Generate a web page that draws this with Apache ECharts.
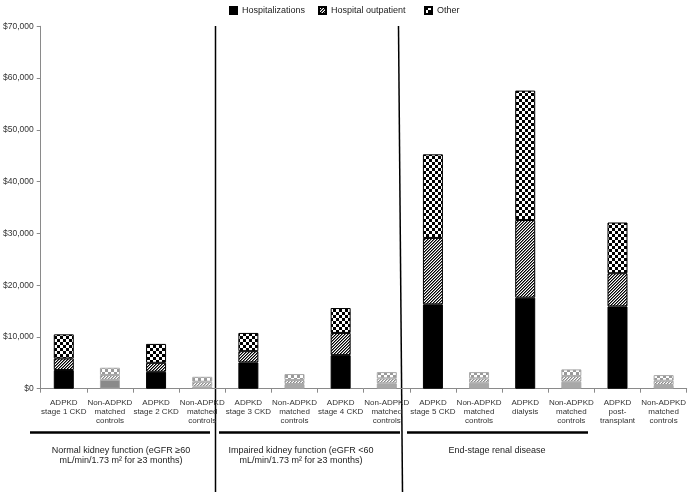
<!DOCTYPE html>
<html>
<head>
<meta charset="utf-8">
<script src="https://cdn.jsdelivr.net/npm/echarts@6/dist/echarts.min.js"></script>
<style>html,body{margin:0;padding:0;background:#fff}#chart{width:689px;height:492px}</style>
</head>
<body>
<div id="chart"></div>
<script>
const categories = [
  'ADPKD\nstage 1 CKD', 'Non-ADPKD\nmatched\ncontrols',
  'ADPKD\nstage 2 CKD', 'Non-ADPKD\nmatched\ncontrols',
  'ADPKD\nstage 3 CKD', 'Non-ADPKD\nmatched\ncontrols',
  'ADPKD\nstage 4 CKD', 'Non-ADPKD\nmatched\ncontrols',
  'ADPKD\nstage 5 CKD', 'Non-ADPKD\nmatched\ncontrols',
  'ADPKD\ndialysis', 'Non-ADPKD\nmatched\ncontrols',
  'ADPKD\npost-\ntransplant', 'Non-ADPKD\nmatched\ncontrols'
];
const hospitalizations = [3600, 1700, 3270, 400, 5080, 900, 6480, 1040, 16290, 1150, 17580, 1350, 15900, 710];
const hospitalOutpatient = [2250, 950, 1730, 950, 2170, 770, 4290, 960, 12830, 850, 15000, 1090, 6410, 830];
const otherCosts = [4650, 1400, 3650, 950, 3520, 1160, 4810, 1210, 16150, 1210, 25000, 1290, 9790, 1090];
const seriesNames = ['Hospitalizations', 'Hospital outpatient', 'Other'];
const yTicks = [0, 10000, 20000, 30000, 40000, 50000, 60000, 70000];
const groupLabels = [
  'Normal kidney function (eGFR \u226560\nmL/min/1.73 m\u00b2 for \u22653 months)',
  'Impaired kidney function (eGFR <60\nmL/min/1.73 m\u00b2 for \u22653 months)',
  'End-stage renal disease'
];

function makeCheck(fg) {
  const c = document.createElement('canvas');
  c.width = 6; c.height = 6;
  const g = c.getContext('2d');
  g.fillStyle = '#fff'; g.fillRect(0, 0, 6, 6);
  g.fillStyle = fg; g.fillRect(0, 0, 3, 3); g.fillRect(3, 3, 3, 3);
  return { image: c, repeat: 'repeat' };
}
function makeHatch(fg, mid) {
  const c = document.createElement('canvas');
  c.width = 6; c.height = 6;
  const g = c.getContext('2d');
  g.fillStyle = '#fff'; g.fillRect(0, 0, 6, 6);
  for (let x = 0; x < 6; x++) for (let y = 0; y < 6; y++) {
    const r = (x + y) % 3;
    if (r === 0) { g.fillStyle = fg; g.fillRect(x, y, 1, 1); }
    else if (r === 1) { g.fillStyle = mid; g.fillRect(x, y, 1, 1); }
  }
  return { image: c, repeat: 'repeat' };
}
const blackStyles = ['#000', makeHatch('#000', '#777'), makeCheck('#000')];
const grayStyles = ['#a8a8a8', makeHatch('#8a8a8a', '#c4c4c4'), makeCheck('#9a9a9a')];

function buildData(values, k) {
  return values.map((v, i) => {
    if (i % 2 === 1) {
      return { value: v, itemStyle: { color: (k === 0 && i === 1) ? '#8a8a8a' : grayStyles[k], borderColor: '#a8a8a8', borderWidth: 1 } };
    }
    return v;
  });
}
const allValues = [hospitalizations, hospitalOutpatient, otherCosts];
const series = allValues.map((vals, k) => ({
  name: seriesNames[k],
  type: 'bar',
  stack: 'cost',
  barWidth: 20,
  itemStyle: { color: blackStyles[k], borderColor: '#000', borderWidth: 1 },
  emphasis: { disabled: true },
  data: buildData(vals, k)
}));

const chart = echarts.init(document.getElementById('chart'), null, { renderer: 'canvas' });
const legendPos = [224, 313, 419];
chart.setOption({
  animation: false,
  backgroundColor: '#fff',
  textStyle: { fontFamily: 'Liberation Sans, Arial, sans-serif' },
  legend: seriesNames.map((n, i) => ({
    data: [n], left: legendPos[i], top: 1, itemWidth: 7, itemHeight: 7, icon: 'rect',
    selectedMode: false,
    textStyle: { fontSize: 9, color: '#222', fontFamily: 'Liberation Sans, Arial, sans-serif' }
  })),
  grid: { left: 33.3, right: 2.3, top: 26.3, bottom: 103.3, containLabel: false },
  xAxis: {
    type: 'category',
    data: categories,
    axisLine: { lineStyle: { color: '#8a8a8a', width: 1 } },
    axisTick: { show: true, length: 4, lineStyle: { color: '#8a8a8a' } },
    axisLabel: { interval: 0, fontSize: 8, lineHeight: 9, color: '#333', margin: 10, fontFamily: 'Liberation Sans, Arial, sans-serif' }
  },
  yAxis: {
    type: 'value',
    min: yTicks[0], max: yTicks[yTicks.length - 1], interval: 10000,
    splitLine: { show: false },
    axisLine: { show: true, lineStyle: { color: '#8a8a8a', width: 1 } },
    axisTick: { show: true, length: 4, lineStyle: { color: '#8a8a8a' } },
    axisLabel: {
      fontSize: 8.5, color: '#333', margin: 7, fontFamily: 'Liberation Sans, Arial, sans-serif',
      formatter: v => '$' + v.toLocaleString('en-US')
    }
  },
  graphic: [
    { type: 'line', shape: { x1: 215.5, y1: 26, x2: 215.5, y2: 492 }, style: { stroke: '#000', lineWidth: 1.5 } },
    { type: 'line', shape: { x1: 398.5, y1: 26, x2: 402.5, y2: 492 }, style: { stroke: '#000', lineWidth: 1.5 } },
    { type: 'line', shape: { x1: 30, y1: 432.5, x2: 210, y2: 432.5 }, style: { stroke: '#000', lineWidth: 2.5 } },
    { type: 'line', shape: { x1: 219, y1: 432.5, x2: 400, y2: 432.5 }, style: { stroke: '#000', lineWidth: 2.5 } },
    { type: 'line', shape: { x1: 407, y1: 432.5, x2: 588, y2: 432.5 }, style: { stroke: '#000', lineWidth: 2.5 } },
    { type: 'text', x: 121, y: 445, style: { text: groupLabels[0], align: 'center', verticalAlign: 'top', fontSize: 9, lineHeight: 10.5, fill: '#222', fontFamily: 'Liberation Sans, Arial, sans-serif' } },
    { type: 'text', x: 301, y: 445, style: { text: groupLabels[1], align: 'center', verticalAlign: 'top', fontSize: 9, lineHeight: 10.5, fill: '#222', fontFamily: 'Liberation Sans, Arial, sans-serif' } },
    { type: 'text', x: 497, y: 445, style: { text: groupLabels[2], align: 'center', verticalAlign: 'top', fontSize: 9, lineHeight: 10.5, fill: '#222', fontFamily: 'Liberation Sans, Arial, sans-serif' } }
  ],
  series: series
});
</script>
</body>
</html>
